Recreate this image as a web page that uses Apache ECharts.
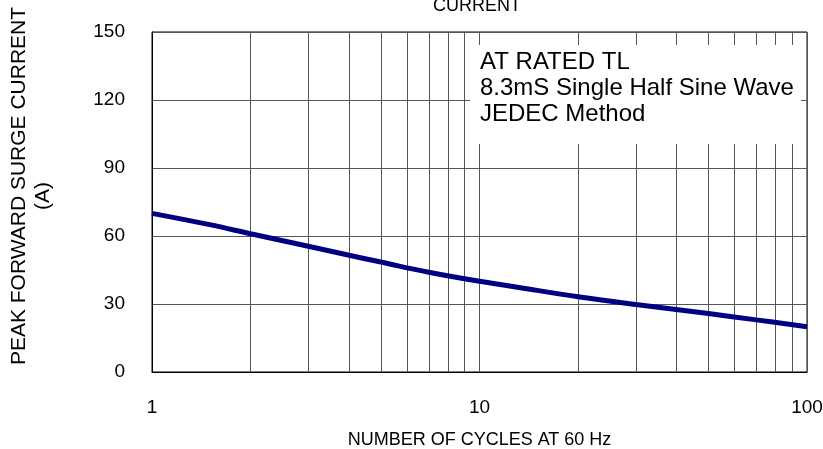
<!DOCTYPE html>
<html>
<head>
<meta charset="utf-8">
<script src="https://cdn.jsdelivr.net/npm/echarts@6/dist/echarts.min.js"></script>
<style>html,body{margin:0;padding:0;background:#fff}#c{width:823px;height:449px}</style>
</head>
<body>
<div id="c"></div>
<script>
const cycles = [1, 1.5, 2, 3, 4, 5, 7, 10, 15, 20, 30, 50, 70, 100];
const surgeCurrent = [70, 65, 61, 55.5, 51.5, 48.5, 44, 40, 36, 33.2, 29.8, 25.8, 23, 20];
const yTicks = [0, 30, 60, 90, 120, 150];
const xMinorGrid = [2, 3, 4, 5, 6, 7, 8, 9, 20, 30, 40, 50, 60, 70, 80, 90];
const titleText = 'CURRENT';
const yTitleLines = ['PEAK FORWARD SURGE CURRENT', '(A)'];
const xTitle = 'NUMBER OF CYCLES AT 60 Hz';
const noteLines = ['AT RATED TL', '8.3mS Single Half Sine Wave', 'JEDEC Method'];

const FONT = '"Liberation Sans", Arial, sans-serif';
const chart = echarts.init(document.getElementById('c'), null, {renderer: 'canvas'});
chart.setOption({
  animation: false,
  backgroundColor: '#fff',
  textStyle: {fontFamily: FONT},
  title: {
    text: titleText, left: 472, top: -8, textAlign: 'center',
    textStyle: {fontFamily: FONT, fontSize: 18, fontWeight: 'normal', color: '#000'}
  },
  grid: {left: 152, right: 16, top: 32, bottom: 77, containLabel: false, outerBoundsMode: 'none',
    show: true, borderColor: '#000', borderWidth: 1, backgroundColor: 'transparent'},
  xAxis: {
    type: 'log', logBase: 10, min: 1, max: 100,
    name: xTitle, nameLocation: 'middle', nameGap: 59,
    nameTextStyle: {fontFamily: FONT, fontSize: 18, color: '#000'},
    axisLine: {show: true, lineStyle: {color: '#000', width: 1}},
    axisTick: {show: false},
    axisLabel: {fontFamily: FONT, fontSize: 19, color: '#000', margin: 26},
    splitLine: {show: true, lineStyle: {color: '#555', width: 1}}
  },
  yAxis: {
    type: 'value', min: 0, max: 150, interval: 30,
    axisLine: {show: true, lineStyle: {color: '#000', width: 1}},
    axisTick: {show: false},
    axisLabel: {fontFamily: FONT, fontSize: 19, color: '#000', margin: 27,
      formatter: v => yTicks.includes(v) ? String(v) : ''},
    splitLine: {show: true, lineStyle: {color: '#555', width: 1}}
  },
  graphic: [
    {type: 'rect', z: 50, shape: {x: 470, y: 45, width: 331, height: 99}, style: {fill: '#fff'}},
    {type: 'text', z: 51, left: 480, top: 49,
      style: {text: noteLines.join('\n'), font: '24px ' + FONT, fill: '#000', lineHeight: 26}},
    {type: 'text', z: 51, x: 19, y: 186, rotation: Math.PI / 2,
      style: {text: yTitleLines[0], font: '21px ' + FONT, fill: '#000', align: 'center', verticalAlign: 'middle'}},
    {type: 'text', z: 51, x: 43, y: 196, rotation: Math.PI / 2,
      style: {text: yTitleLines[1], font: '21px ' + FONT, fill: '#000', align: 'center', verticalAlign: 'middle'}}
  ],
  series: [{
    type: 'line', data: cycles.map((c, i) => [c, surgeCurrent[i]]),
    smooth: 0.4, showSymbol: false, symbol: 'none', z: 10,
    lineStyle: {color: '#000080', width: 5},
    markLine: {
      silent: true, symbol: 'none', label: {show: false},
      lineStyle: {color: '#555', width: 1, type: 'solid'},
      data: xMinorGrid.map(v => ({xAxis: v}))
    }
  }]
});
</script>
</body>
</html>
